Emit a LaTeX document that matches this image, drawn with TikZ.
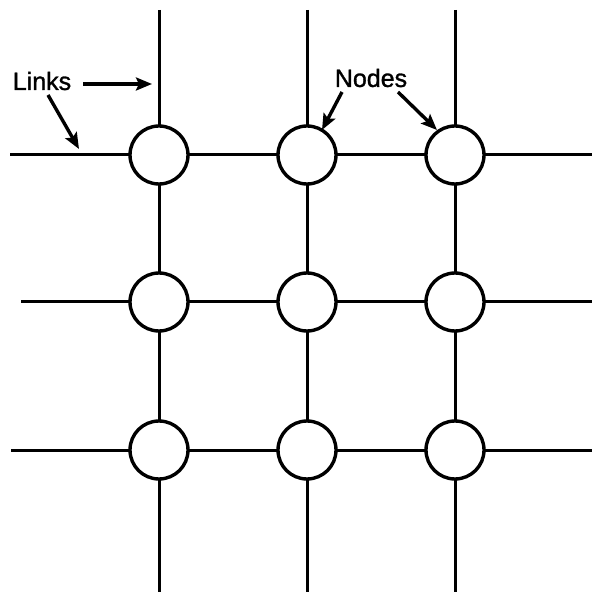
\documentclass[tikz,border=0pt]{standalone}
\usepackage{fontspec}
\setmainfont{Liberation Sans}
\newfontfamily\tagfont[FakeBold=1.2]{Liberation Sans}
\usetikzlibrary{arrows.meta}

\tikzset{
  gridnode/.style={circle, draw, fill=white, line width=3.4pt, minimum size=58pt, inner sep=0pt},
  link/.style={line width=3pt},
  pointer/.style={line width=3.4pt, -{Stealth[length=16pt, width=13pt, inset=3pt]}},
  tag/.style={font=\tagfont\fontsize{25pt}{28pt}\selectfont, inner sep=0pt}
}

\begin{document}
\begin{tikzpicture}[x=1pt, y=1pt]
  \useasboundingbox (0,0) rectangle (594,592);

  % grid of nodes
  \foreach \c/\x in {1/159, 2/307, 3/455} {
    \foreach \r/\y in {1/437, 2/290, 3/142} {
      \coordinate (p\r\c) at (\x,\y);
    }
  }

  % free ends of the links
  \coordinate (l1) at (10,437);
  \coordinate (l2) at (21,290);
  \coordinate (l3) at (11,142);
  \foreach \r/\y in {1/437, 2/290, 3/142} { \coordinate (r\r) at (592,\y); }
  \foreach \c/\x in {1/159, 2/307, 3/455} {
    \coordinate (t\c) at (\x,582);
    \coordinate (b\c) at (\x,0);
  }

  % links
  \foreach \r in {1,2,3} {
    \draw[link] (l\r) -- (p\r1) -- (p\r2) -- (p\r3) -- (r\r);
  }
  \foreach \c in {1,2,3} {
    \draw[link] (t\c) -- (p1\c) -- (p2\c) -- (p3\c) -- (b\c);
  }

  % nodes
  \foreach \r in {1,2,3} {
    \foreach \c in {1,2,3} {
      \node[gridnode] (n\r\c) at (p\r\c) {};
    }
  }

  % labels
  \node[tag] (links) at (42,511) {Links};
  \node[tag] (nodes) at (371,514) {Nodes};

  % pointers
  \coordinate (s1) at (83,508);   \coordinate (e1) at (152,508);
  \coordinate (s2) at (48,497);   \coordinate (e2) at (79,443);
  \coordinate (s3) at (342,500);  \coordinate (e3) at (322,462);
  \coordinate (s4) at (398,500);  \coordinate (e4) at (437,462);
  \draw[pointer] (s1) -- (e1);
  \draw[pointer] (s2) -- (e2);
  \draw[pointer] (s3) -- (e3);
  \draw[pointer] (s4) -- (e4);
\end{tikzpicture}
\end{document}
